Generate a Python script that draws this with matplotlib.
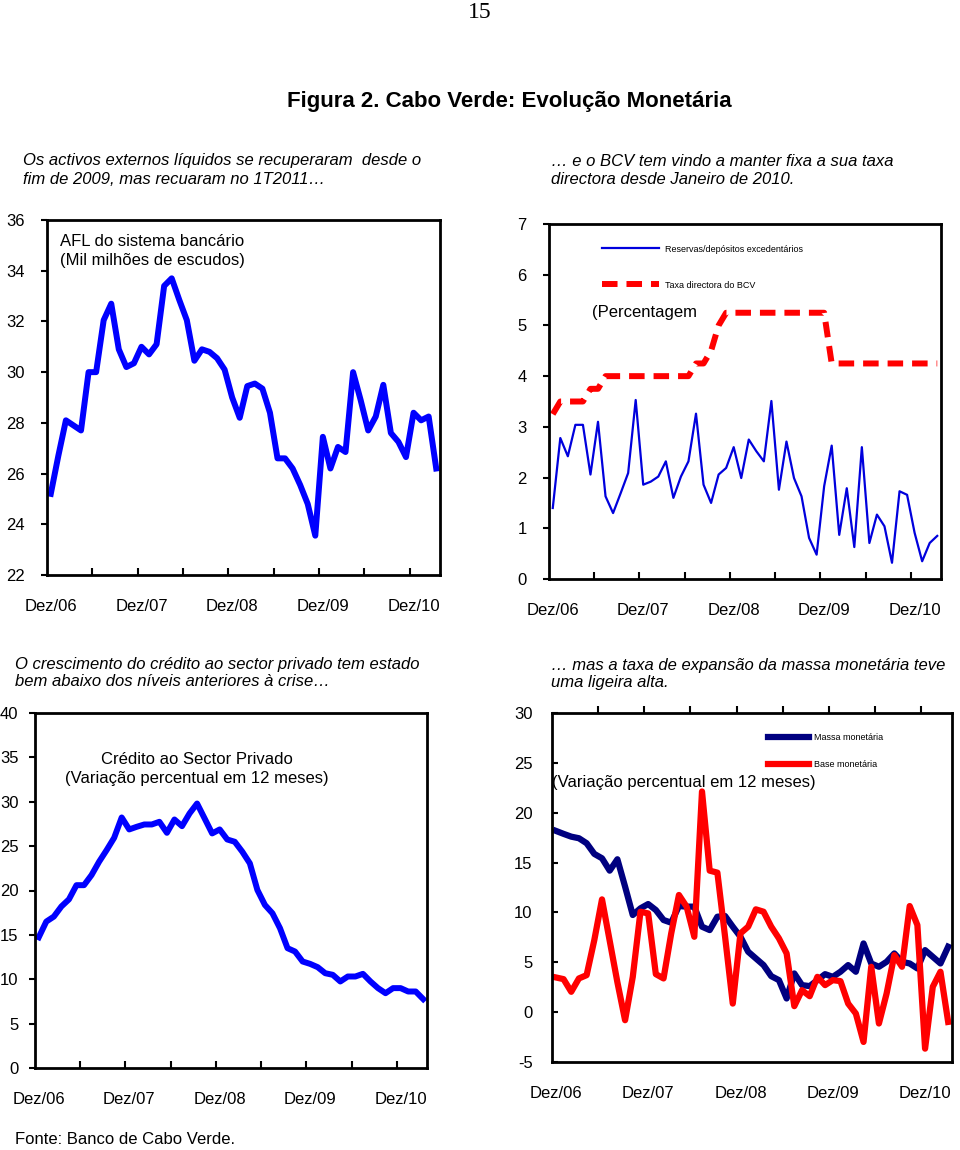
import numpy as np
import matplotlib
matplotlib.use("Agg")
import matplotlib.pyplot as plt

plt.rcParams['font.family'] = ['Liberation Sans', 'DejaVu Sans']
plt.rcParams['axes.unicode_minus'] = False

# meses de Dez/06 a Mar/11
meses = np.arange(52)
rotulos = ['Dez/06', 'Dez/07', 'Dez/08', 'Dez/09', 'Dez/10']
pos_rotulos = [0, 12, 24, 36, 48]

afl = [25.2, 26.7, 28.1, 27.9, 27.7, 30.0, 30.0, 32.05, 32.7, 30.9,
       30.2, 30.35, 31.0, 30.7, 31.1, 33.4, 33.7, 32.85, 32.05, 30.45,
       30.9, 30.8, 30.55, 30.1, 29.0, 28.2, 29.45, 29.55, 29.35, 28.4,
       26.6, 26.6, 26.2, 25.55, 24.8, 23.55, 27.45, 26.2, 27.05, 26.85,
       30.0, 28.9, 27.7, 28.25, 29.5, 27.6, 27.25, 26.65, 28.4, 28.1,
       28.25, 26.2]

reservas = [1.40, 2.78, 2.42, 3.04, 3.04, 2.06, 3.10, 1.63, 1.30, 1.69,
            2.09, 3.53, 1.86, 1.92, 2.02, 2.32, 1.60, 2.02, 2.32, 3.26,
            1.86, 1.50, 2.06, 2.19, 2.60, 1.99, 2.75, 2.52, 2.32, 3.51,
            1.76, 2.71, 1.99, 1.63, 0.81, 0.48, 1.83, 2.63, 0.87, 1.79,
            0.63, 2.60, 0.71, 1.27, 1.04, 0.32, 1.73, 1.66, 0.91, 0.35,
            0.71, 0.85]

taxa_bcv = [3.25, 3.5, 3.5, 3.5, 3.5, 3.75, 3.75, 4.0, 4.0, 4.0,
            4.0, 4.0, 4.0, 4.0, 4.0, 4.0, 4.0, 4.0, 4.0, 4.25,
            4.25, 4.5, 5.0, 5.25, 5.25, 5.25, 5.25, 5.25, 5.25, 5.25,
            5.25, 5.25, 5.25, 5.25, 5.25, 5.25, 5.25, 4.25, 4.25, 4.25,
            4.25, 4.25, 4.25, 4.25, 4.25, 4.25, 4.25, 4.25, 4.25, 4.25,
            4.25, 4.25]

credito = [14.73, 16.5, 17.06, 18.2, 19.0, 20.6, 20.6, 21.74, 23.24, 24.55,
           25.94, 28.23, 26.88, 27.18, 27.44, 27.44, 27.74, 26.5, 28.0, 27.25,
           28.68, 29.8, 28.12, 26.43, 26.88, 25.75, 25.49, 24.37, 23.06, 20.06,
           18.37, 17.43, 15.75, 13.5, 13.12, 12.0, 11.73, 11.36, 10.68, 10.5,
           9.75, 10.31, 10.31, 10.61, 9.75, 9.0, 8.43, 9.0, 9.0, 8.62,
           8.62, 7.76]

massa = [18.18, 17.88, 17.6, 17.44, 16.94, 15.87, 15.43, 14.19, 15.33, 12.59,
         9.74, 10.41, 10.84, 10.24, 9.24, 8.97, 10.64, 10.58, 10.58, 8.57,
         8.23, 9.57, 9.64, 8.57, 7.56, 6.06, 5.39, 4.72, 3.61, 3.21,
         1.37, 3.88, 2.71, 2.61, 3.21, 3.81, 3.54, 4.05, 4.72, 4.05,
         6.89, 4.88, 4.55, 5.05, 5.89, 5.05, 4.88, 4.38, 6.22, 5.55,
         4.88, 6.56]

base = [3.48, 3.31, 2.04, 3.38, 3.71, 7.23, 11.31, 7.16, 3.0, -0.81,
        3.54, 10.07, 9.9, 3.81, 3.38, 7.9, 11.75, 10.58, 7.56, 22.13,
        14.19, 13.99, 7.56, 0.86, 7.9, 8.57, 10.31, 10.07, 8.57, 7.4,
        5.89, 0.6, 2.2, 1.6, 3.54, 2.71, 3.21, 3.11, 0.86, -0.14,
        -2.99, 4.55, -1.14, 1.87, 5.72, 4.55, 10.64, 8.73, -3.66, 2.54,
        4.05, -0.98]

W, H = 960, 1150
fig = plt.figure(figsize=(9.6, 11.5), dpi=100)


def caixa(x0, y0, x1, y1):
    return [x0 / W, 1 - y1 / H, (x1 - x0) / W, (y1 - y0) / H]


def px(x, y):
    return x / W, 1 - y / H


def eixo(rect, ylim, yticks, ypad, ydir='out', topo=False):
    ax = fig.add_axes(rect)
    ax.set_xlim(-0.5, 51.5)
    ax.set_ylim(*ylim)
    ax.set_yticks(yticks)
    ax.set_xticks(pos_rotulos)
    ax.set_xticklabels(rotulos)
    ax.set_xticks(np.arange(5.5, 51, 6), minor=True)
    ax.tick_params(axis='x', which='major', length=0, pad=17, labelsize=12)
    if topo:
        ax.tick_params(axis='x', which='minor', length=5, width=1.5,
                       direction='out', top=True, bottom=False)
    else:
        ax.tick_params(axis='x', which='minor', length=5, width=1.5,
                       direction='in')
    ax.tick_params(axis='y', length=4, width=1.5, direction=ydir,
                   pad=ypad, labelsize=12)
    for s in ax.spines.values():
        s.set_linewidth(2)
    return ax


# textos da pagina
fig.text(*px(480, 12), '15', ha='center', va='center', fontsize=17,
         family=['Liberation Serif', 'DejaVu Serif'])
fig.text(*px(509, 101), 'Figura 2. Cabo Verde: Evolução Monetária',
         ha='center', va='center', fontsize=16, fontweight='bold')

fig.text(*px(23, 170), 'Os activos externos líquidos se recuperaram  desde o\n'
         'fim de 2009, mas recuaram no 1T2011…', ha='left', va='center',
         fontsize=12, style='italic', linespacing=1.25)
fig.text(*px(551, 170), '… e o BCV tem vindo a manter fixa a sua taxa\n'
         'directora desde Janeiro de 2010.', ha='left', va='center',
         fontsize=12, style='italic', linespacing=1.25)
fig.text(*px(15, 673), 'O crescimento do crédito ao sector privado tem estado\n'
         'bem abaixo dos níveis anteriores à crise…', ha='left', va='center',
         fontsize=12, style='italic', linespacing=1.2)
fig.text(*px(551, 674), '… mas a taxa de expansão da massa monetária teve\n'
         'uma ligeira alta.', ha='left', va='center',
         fontsize=12, style='italic', linespacing=1.2)
fig.text(*px(15, 1140), 'Fonte: Banco de Cabo Verde.', ha='left',
         va='center', fontsize=12)

# 1) AFL
ax1 = eixo(caixa(47, 220, 440, 575), (22, 36), np.arange(22, 37, 2), 12)
ax1.plot(meses, afl, color='#0000ff', lw=4.3, solid_joinstyle='round')
ax1.text(*px(60, 251), 'AFL do sistema bancário\n(Mil milhões de escudos)',
         transform=fig.transFigure, ha='left', va='center', fontsize=12,
         linespacing=1.35)

# 2) reservas e taxa directora
ax2 = eixo(caixa(549, 224, 941, 579), (0, 7), np.arange(0, 8, 1), 12)
ax2.plot(meses, reservas, color='#0000dd', lw=1.6,
         label='Reservas/depósitos excedentários')
ax2.plot(meses, taxa_bcv, color='#ff0000', lw=4.3,
         linestyle=(0, (2.6, 1.5)), dash_capstyle='butt',
         label='Taxa directora do BCV')
ax2.legend(loc='upper left', bbox_to_anchor=(0.115, 0.965), frameon=False,
           fontsize=6.5, handlelength=6.3, handletextpad=0.7,
           labelspacing=3.0)
ax2.text(*px(592, 313), '(Percentagem', transform=fig.transFigure,
         ha='left', va='center', fontsize=12)

# 3) credito
ax3 = eixo(caixa(35, 713, 427, 1068), (0, 40), np.arange(0, 41, 5), 8)
ax3.plot(meses, credito, color='#0000ff', lw=4.3, solid_joinstyle='round')
ax3.text(*px(197, 769), 'Crédito ao Sector Privado\n(Variação percentual em 12 meses)',
         transform=fig.transFigure, ha='center', va='center', fontsize=12,
         linespacing=1.35)

# 4) massa e base monetaria
ax4 = eixo(caixa(552, 713, 952, 1062), (-5, 30), np.arange(-5, 31, 5), 14,
           ydir='in', topo=True)
ax4.plot(meses, massa, color='#000080', lw=4.5, solid_joinstyle='round',
         label='Massa monetária')
ax4.plot(meses, base, color='#ff0000', lw=4.5, solid_joinstyle='round',
         label='Base monetária')
ax4.legend(loc='upper left', bbox_to_anchor=(0.52, 0.965), frameon=False,
           fontsize=6.5, handlelength=4.5, handletextpad=0.6,
           labelspacing=2.0)
ax4.text(*px(552, 782), '(Variação percentual em 12 meses)',
         transform=fig.transFigure, ha='left', va='center', fontsize=12)

fig.savefig('out.png', dpi=100)
